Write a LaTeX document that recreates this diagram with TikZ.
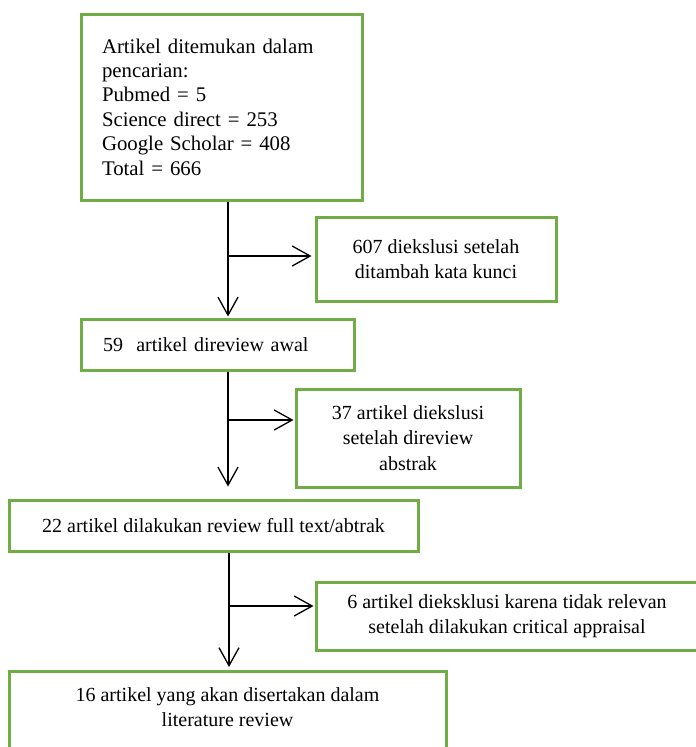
\documentclass[tikz,border=0pt]{standalone}
\usepackage{fontspec}
\setmainfont{Liberation Serif}
\usetikzlibrary{arrows.meta,calc}
\definecolor{boxgreen}{HTML}{70AD47}
\begin{document}
\begin{tikzpicture}[x=1pt,y=-1pt,
  gbox/.style={draw=boxgreen,line width=3pt,rectangle,inner sep=0pt,
    font=\fontsize{20pt}{25.5pt}\selectfont,align=center},
  txt/.style={inner sep=0pt,font=\fontsize{20pt}{25pt}\selectfont,align=center},
  arr/.style={draw=black,line width=1.3pt,-{Straight Barb[length=18pt,width=20pt,line width=1.3pt]}}]
\useasboundingbox (0,0) rectangle (696,747);
\clip (0,0) rectangle (696,747);
% boxes
\node[gbox,minimum width=281pt,minimum height=186pt,text width=239pt,align=left,
  font=\fontsize{20.8pt}{24.4pt}\selectfont] (b1) at (221.5,107)
  {Artikel ditemukan dalam\\pencarian:\\Pubmed = 5\\Science direct = 253\\Google Scholar = 408\\Total = 666};
\node[gbox,minimum width=240pt,minimum height=84pt] (b2) at (436,259)
  {607 diekslusi setelah\\ditambah kata kunci};
\node[gbox,minimum width=273pt,minimum height=51pt,text width=229pt,align=left] (b3) at (217.5,344.5)
  {59\ \ artikel direview awal};
\node[gbox,minimum width=224pt,minimum height=98pt] (b4) at (408,438)
  {37 artikel diekslusi\\setelah direview\\abstrak};
\node[gbox,minimum width=409pt,minimum height=51pt] (b5) at (213.5,525.5)
  {22 artikel dilakukan review full text/abtrak};
\node[gbox,minimum width=382pt,minimum height=68pt,font=\fontsize{20pt}{25pt}\selectfont] (b6) at (507,616)
  {6 artikel dieksklusi karena tidak relevan\\setelah dilakukan critical appraisal};
\node[gbox,minimum width=437pt,minimum height=90pt,anchor=north] (b7) at (227.5,670) {};
\node[txt] (t7) at (227.5,707) {16 artikel yang akan disertakan dalam\\literature review};
% junctions
\coordinate (j1) at (228,256);
\coordinate (j2) at (228,420);
\coordinate (j3) at (229,606);
% main flow
\draw[arr] (b1.south -| j1) -- ($(b3.north -| j1)+(0,-1)$);
\draw[arr] (b3.south -| j2) -- ($(b5.north -| j2)+(0,-12)$);
\draw[arr] (b5.south -| j3) -- ($(b7.north -| j3)+(0,-3)$);
% branches
\draw[arr] (j1) -- ($(b2.west |- j1)+(-3,0)$);
\draw[arr] (j2) -- ($(b4.west |- j2)+(-1,0)$);
\draw[arr] (j3) -- ($(b6.west |- j3)+(-1,0)$);
\end{tikzpicture}
\end{document}
